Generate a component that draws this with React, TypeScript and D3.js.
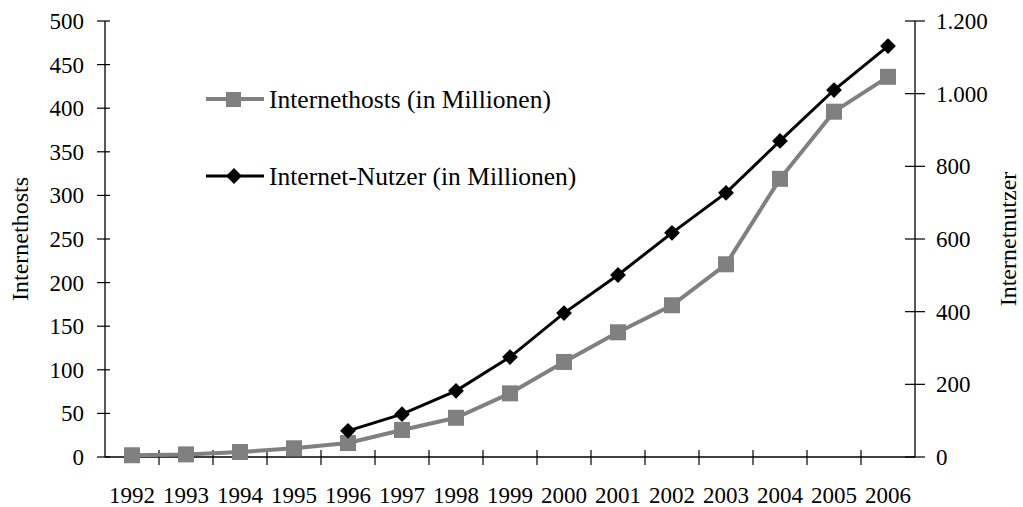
import React, { useEffect, useRef } from 'react';
import * as d3 from 'd3';

const years = ['1992', '1993', '1994', '1995', '1996', '1997', '1998', '1999', '2000', '2001', '2002', '2003', '2004', '2005', '2006'];
const hosts = [2, 3, 5.7, 10, 16, 31, 45, 73, 109, 143, 174, 221, 319, 396, 436];
const userYears = ['1996', '1997', '1998', '1999', '2000', '2001', '2002', '2003', '2004', '2005', '2006'];
const users = [72, 118, 182, 275, 396, 501, 617, 727, 870, 1010, 1131];
const leftTicks = [0, 50, 100, 150, 200, 250, 300, 350, 400, 450, 500];
const rightTicks = [0, 200, 400, 600, 800, 1000, 1200];
const seriesNames = ['Internethosts (in Millionen)', 'Internet-Nutzer (in Millionen)'];

const FONT = '"Liberation Serif", "DejaVu Serif", serif';

const App = () => {
  const svgRef = useRef<SVGSVGElement>(null);

  useEffect(() => {
    const svg = d3.select(svgRef.current);
    svg.selectAll('*').remove();

    const left = 105, right = 915, top = 21, bottom = 457;

    const x = d3.scaleBand().domain(years).range([left, right]);
    const yL = d3.scaleLinear().domain([0, 500]).range([bottom, top]);
    const yR = d3.scaleLinear().domain([0, 1200]).range([bottom, top]);
    const cx = (d: string) => (x(d) as number) + x.bandwidth() / 2;
    const fmt = (v: number) => d3.format(',')(v).replace(/,/g, '.');

    const g = svg.append('g').attr('font-family', FONT).attr('font-size', 23).attr('fill', '#000');

    // left axis
    g.append('line').attr('x1', left).attr('x2', left).attr('y1', top).attr('y2', bottom)
      .attr('stroke', '#000').attr('stroke-width', 1.3);
    leftTicks.forEach(t => {
      g.append('line').attr('x1', left - 8).attr('x2', left + 5).attr('y1', yL(t)).attr('y2', yL(t))
        .attr('stroke', '#000').attr('stroke-width', 1.2);
      g.append('text').attr('x', left - 21).attr('y', yL(t)).attr('dy', '0.35em')
        .attr('text-anchor', 'end').text(t);
    });

    // right axis
    g.append('line').attr('x1', right).attr('x2', right).attr('y1', top).attr('y2', bottom)
      .attr('stroke', '#000').attr('stroke-width', 1.3);
    rightTicks.forEach(t => {
      g.append('line').attr('x1', right - 10).attr('x2', right + 10).attr('y1', yR(t)).attr('y2', yR(t))
        .attr('stroke', '#000').attr('stroke-width', 1.2);
      g.append('text').attr('x', right + 21).attr('y', yR(t)).attr('dy', '0.35em')
        .attr('text-anchor', 'start').text(fmt(t));
    });

    // x axis
    g.append('line').attr('x1', left).attr('x2', right).attr('y1', bottom).attr('y2', bottom)
      .attr('stroke', '#000').attr('stroke-width', 1.3);
    years.forEach((yr, i) => {
      const xt = x(yr) as number;
      if (i > 0) {
        g.append('line').attr('x1', xt).attr('x2', xt).attr('y1', bottom - 7).attr('y2', bottom + 8)
          .attr('stroke', '#000').attr('stroke-width', 1.2);
      }
      g.append('text').attr('x', cx(yr)).attr('y', 503).attr('text-anchor', 'middle').text(yr);
    });

    // axis titles
    g.append('text').attr('transform', `translate(28,${(top + bottom) / 2}) rotate(-90)`)
      .attr('font-size', 24).attr('text-anchor', 'middle').text('Internethosts');
    g.append('text').attr('transform', `translate(1016,${(top + bottom) / 2}) rotate(-90)`)
      .attr('font-size', 24).attr('text-anchor', 'middle').text('Internetnutzer');

    // hosts series
    const lineL = d3.line<number>().x((_, i) => cx(years[i])).y(d => yL(d));
    g.append('path').datum(hosts).attr('d', lineL).attr('fill', 'none')
      .attr('stroke', '#808080').attr('stroke-width', 4);
    g.selectAll('.sq').data(hosts).enter().append('rect')
      .attr('x', (_, i) => cx(years[i]) - 8).attr('y', d => yL(d) - 8)
      .attr('width', 16).attr('height', 16).attr('fill', '#808080');

    // users series
    const lineR = d3.line<number>().x((_, i) => cx(userYears[i])).y(d => yR(d));
    g.append('path').datum(users).attr('d', lineR).attr('fill', 'none')
      .attr('stroke', '#000').attr('stroke-width', 3);
    const diamond = d3.symbol().type(d3.symbolSquare).size(125);
    g.selectAll('.dm').data(users).enter().append('path')
      .attr('d', diamond)
      .attr('transform', (d, i) => `translate(${cx(userYears[i])},${yR(d)}) rotate(45)`)
      .attr('fill', '#000');

    // legend
    const legY = [99, 176];
    g.append('line').attr('x1', 206).attr('x2', 264).attr('y1', legY[0]).attr('y2', legY[0])
      .attr('stroke', '#808080').attr('stroke-width', 4);
    g.append('rect').attr('x', 226).attr('y', legY[0] - 7).attr('width', 15).attr('height', 15).attr('fill', '#808080');
    g.append('line').attr('x1', 206).attr('x2', 264).attr('y1', legY[1]).attr('y2', legY[1])
      .attr('stroke', '#000').attr('stroke-width', 3);
    g.append('path').attr('d', diamond).attr('transform', `translate(234,${legY[1]}) rotate(45)`).attr('fill', '#000');
    seriesNames.forEach((n, i) => {
      g.append('text').attr('x', 269).attr('y', legY[i]).attr('dy', '0.35em')
        .attr('font-size', 25.5).text(n);
    });
  }, []);

  return (
    <svg ref={svgRef} width={1023} height={507}
      style={{ position: 'absolute', left: 0, top: 0, background: '#fff' }} />
  );
};

export default App;
